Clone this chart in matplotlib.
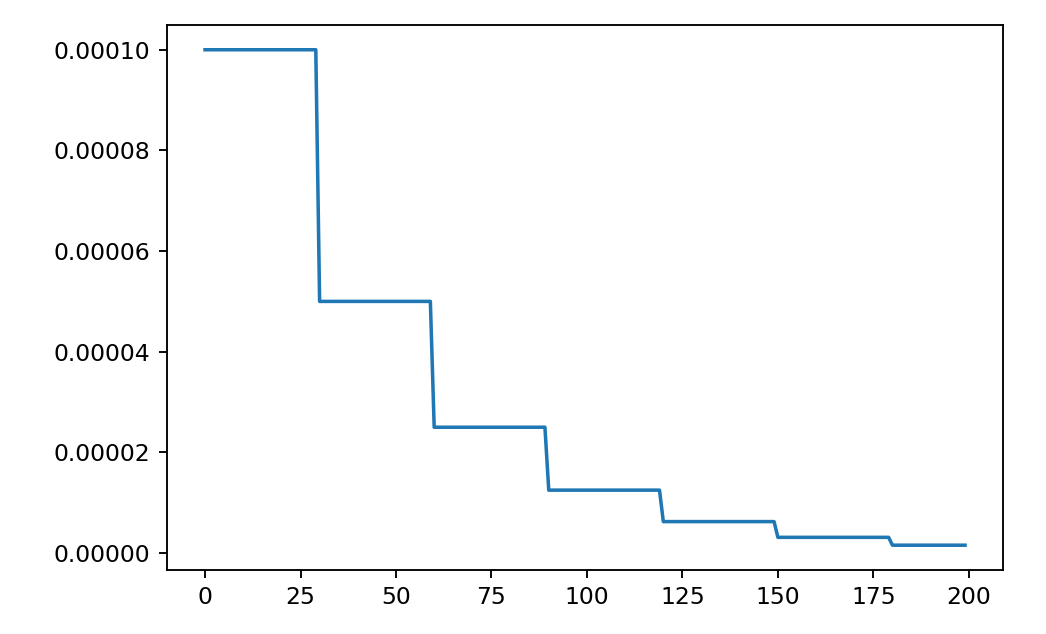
import numpy as np
import matplotlib
matplotlib.use("Agg")
import matplotlib.pyplot as plt

lr_levels = [1e-4, 5e-5, 2.5e-5, 1.25e-5, 6.25e-6, 3.125e-6, 1.5625e-6]
level_epochs = [30, 30, 30, 30, 30, 30, 20]

lr = np.repeat(lr_levels, level_epochs)
epochs = np.arange(len(lr))

dpi = 169
fig = plt.figure(figsize=(1046 / dpi, 634 / dpi), dpi=dpi)
ax = fig.add_axes([0.1597, 0.101, 0.7992, 0.8596])
ax.plot(epochs, lr)
ax.set_xticks([0, 25, 50, 75, 100, 125, 150, 175, 200])

fig.savefig("out.png", dpi=dpi)
